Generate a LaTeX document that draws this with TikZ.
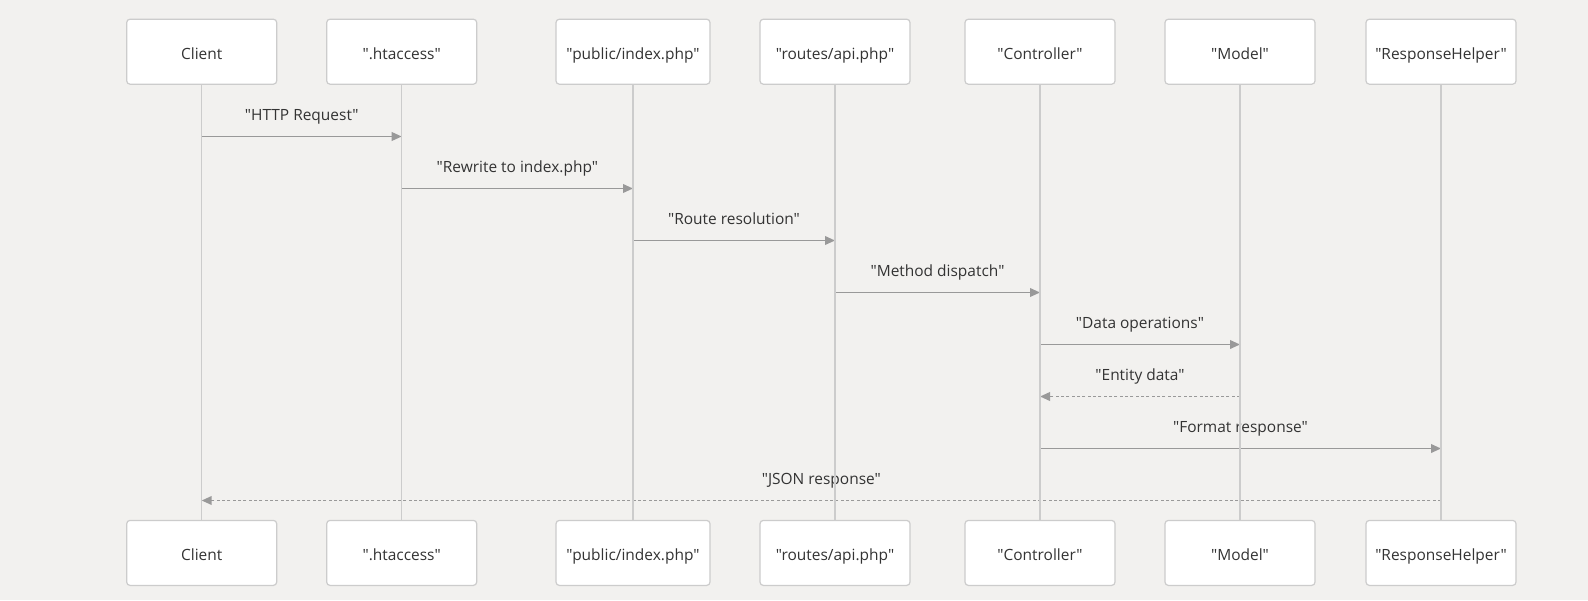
\documentclass[tikz,border=0pt]{standalone}
\usepackage{fontspec}
\setmainfont{Open Sans}[Ligatures=TeXOff]
\usepackage{xcolor}
\usetikzlibrary{arrows.meta}
\definecolor{pagebg}{HTML}{F2F1EF}
\definecolor{boxline}{HTML}{CCCCCC}
\definecolor{msgline}{HTML}{999999}
\definecolor{inktext}{HTML}{333333}

\begin{document}
\begin{tikzpicture}[
  x=0.75pt, y=-0.75pt, >=Latex,
  font=\fontsize{11.6}{14}\selectfont, text=inktext,
  actor/.style={draw=boxline, line width=0.9pt, fill=white, rounded corners=2.5pt,
    minimum height=48.75pt, inner sep=0pt, text height=11.4pt, text depth=0pt},
  life/.style={draw=boxline, line width=1.1pt},
  msg/.style={draw=msgline, line width=1.2pt, -{Triangle[length=7.5pt,width=6.5pt]}},
  reply/.style={msg, dash pattern=on 2.3pt off 1.7pt},
  lbl/.style={midway, anchor=base, yshift=12pt, inner sep=0pt}
]
\fill[pagebg] (0,0) rectangle (1588,600);
\useasboundingbox (0,0) rectangle (1588,600);
% participants, top and bottom
\foreach \n/\t/\x/\w in {cl/Client/201.7/150, ht/{".htaccess"}/401.7/150,
    ix/{"public/index.php"}/633/154, rt/{"routes/api.php"}/835/150,
    ct/{"Controller"}/1040/150, md/{"Model"}/1240/150, rh/{"ResponseHelper"}/1441/150}{
  \node[actor, minimum width=\w*0.75pt] (t\n) at (\x,51.7) {\t};
  \node[actor, minimum width=\w*0.75pt] (b\n) at (\x,552.9) {\t};
}
% messages
\foreach \a/\b/\y/\t/\s in {cl/ht/136.5/{"HTTP Request"}/msg,
    ht/ix/188.5/{"Rewrite to index.php"}/msg, ix/rt/240.5/{"Route resolution"}/msg,
    rt/ct/292.5/{"Method dispatch"}/msg, ct/md/344.5/{"Data operations"}/msg,
    md/ct/396.5/{"Entity data"}/reply, ct/rh/448.5/{"Format response"}/msg,
    rh/cl/500.5/{"JSON response"}/reply}{
  \draw[\s] (t\a |- 0,\y) -- (t\b |- 0,\y) node[lbl] (m\a\b) {\t};
}
% lifelines
\foreach \n in {cl,ht,ix,rt,ct,md,rh}{\draw[life] (t\n) -- (b\n);}
\end{tikzpicture}
\end{document}
